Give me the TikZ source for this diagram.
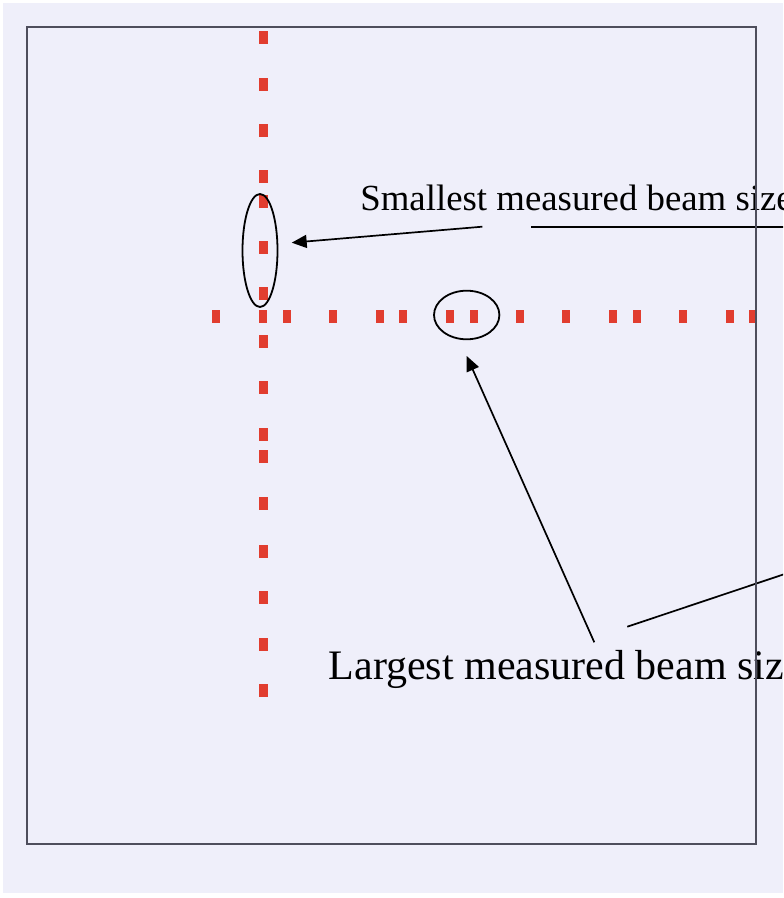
\documentclass[tikz,border=0pt]{standalone}
\usepackage{fontspec}
\setmainfont{Liberation Serif}
\usetikzlibrary{arrows.meta,shapes.geometric}

\definecolor{bglav}{RGB}{239,239,250}
\definecolor{beamred}{RGB}{225,61,47}
\definecolor{framegray}{RGB}{78,78,92}

\begin{document}
\begin{tikzpicture}[
  x=0.5pt, y=-0.5pt,
  >={Triangle[length=7.5pt, width=6.5pt]},
  beamdot/.style={fill=beamred},
  ring/.style={draw, ellipse, line width=0.9pt, inner sep=0pt},
  pointer/.style={->, line width=0.85pt},
  note/.style={anchor=base west, inner sep=0pt},
]

% Page and background
\useasboundingbox (0,0) rectangle (783,898);
\clip (0,0) rectangle (783,898);
\fill[white] (0,0) rectangle (783,898);
\fill[bglav] (3,3) rectangle (783,893);

% Scan points, vertical line
\foreach \y in {38,85,131,177,202,248,294,341,387,434,456,503,551,597,644,690}
  \fill[beamdot] (259,\y-6.5) rectangle ++(8.5,13);

% Scan points, horizontal line
\foreach \x in {216,263,287,333,380,403,450,474,520,566,613,637,683,730,753}
  \fill[beamdot] (\x-4.25,310.5) rectangle ++(8.5,13);

% Marked points
\node[ring, minimum width=17.5pt, minimum height=56.5pt] (small) at (260,250.5) {};
\node[ring, minimum width=32.7pt, minimum height=24.3pt] (large) at (466.7,315) {};

% Labels
\node[note, font=\fontsize{18.4}{20}\selectfont] (smalltxt) at (360,210.7)
  {Smallest measured beam size};
\node[note, font=\fontsize{21}{24}\selectfont] (largetxt) at (328.3,679.3)
  {Largest measured beam size};

% Arrows
\coordinate (smallfrom) at (482.3,226.7);
\coordinate (smallto) at (291.7,242.7);
\coordinate (rulefrom) at (531,226.7);
\coordinate (ruleto) at (800,226.7);
\coordinate (largefrom) at (594.3,642.3);
\coordinate (largeto) at (466.7,356);
\coordinate (farfrom) at (627.3,626.7);
\coordinate (farto) at (800,568.9);

\draw[pointer] (smallfrom) -- (smallto);
\draw[line width=0.85pt] (rulefrom) -- (ruleto);
\draw[pointer] (largefrom) -- (largeto);
\draw[line width=0.85pt] (farfrom) -- (farto);

% Frame
\draw[framegray, line width=1pt] (27,27) rectangle (756,844);

\end{tikzpicture}
\end{document}
